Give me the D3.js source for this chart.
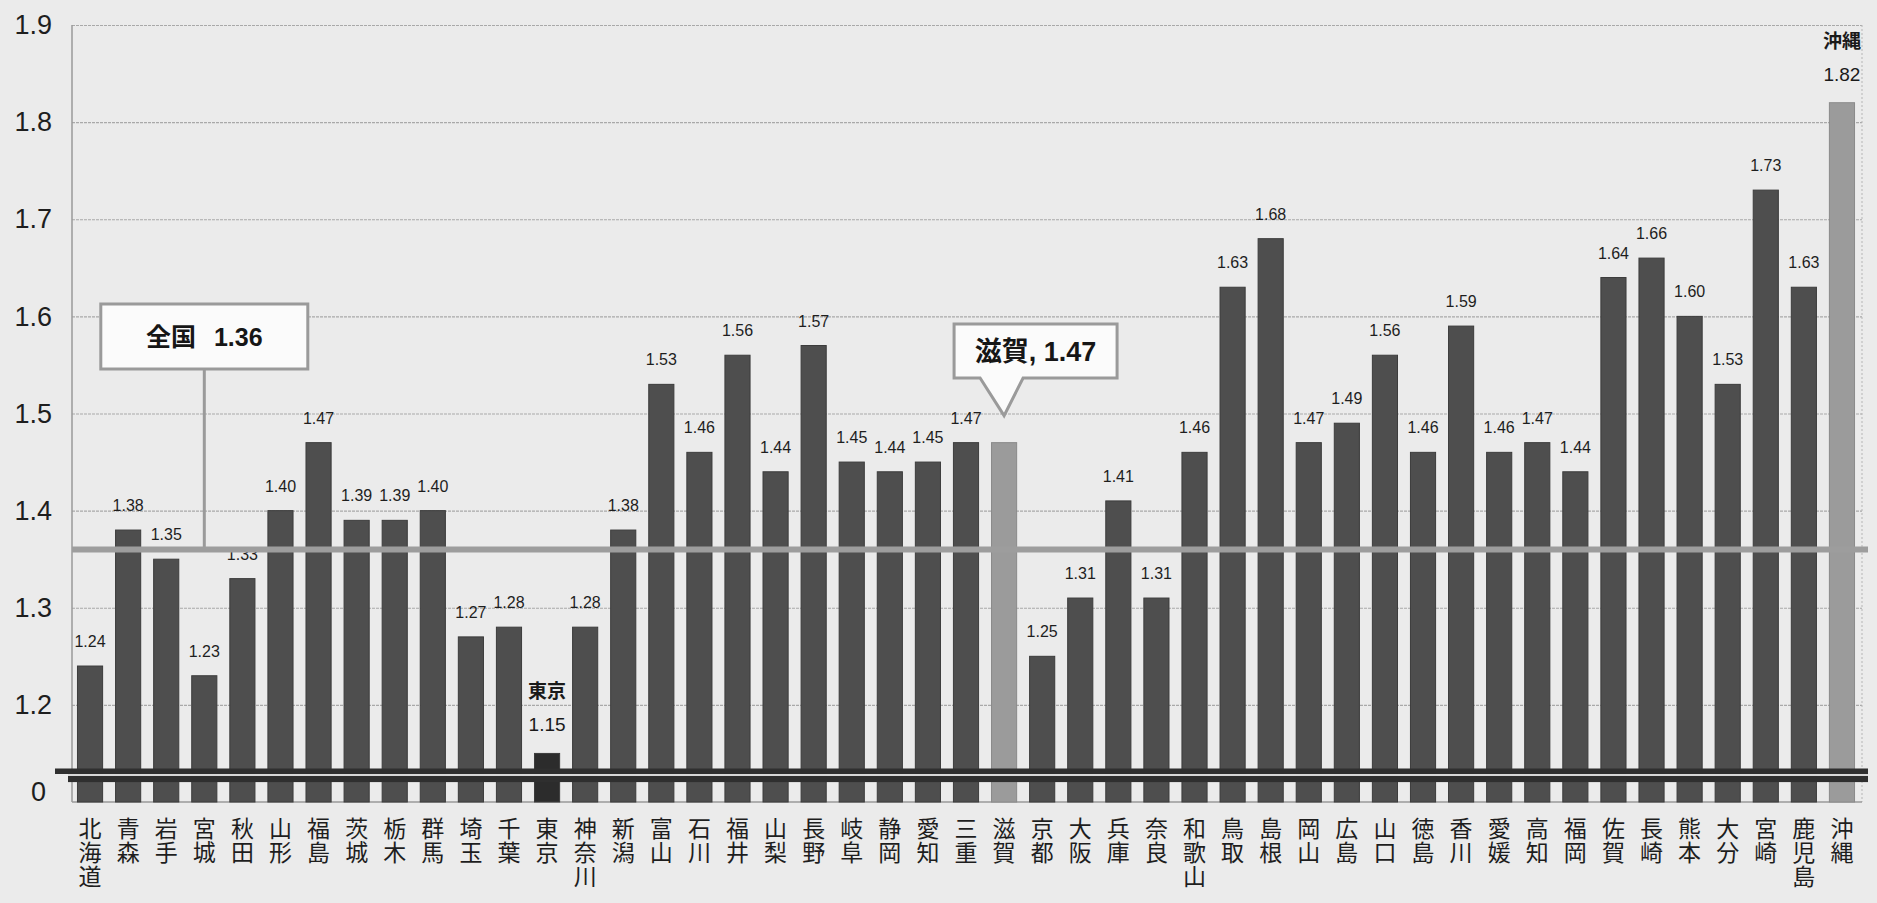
<!DOCTYPE html>
<html>
<head>
<meta charset="utf-8">
<script src="https://cdn.jsdelivr.net/npm/d3@7"></script>
<style>
  html, body { margin: 0; padding: 0; background: #ebebeb; }
  svg { display: block; }
</style>
</head>
<body>
<svg id="chart" width="1877" height="903"></svg>
<script>
// Total fertility rate by prefecture
const prefectures = [
  "北海道","青森","岩手","宮城","秋田","山形","福島","茨城","栃木","群馬",
  "埼玉","千葉","東京","神奈川","新潟","富山","石川","福井","山梨","長野",
  "岐阜","静岡","愛知","三重","滋賀","京都","大阪","兵庫","奈良","和歌山",
  "鳥取","島根","岡山","広島","山口","徳島","香川","愛媛","高知","福岡",
  "佐賀","長崎","熊本","大分","宮崎","鹿児島","沖縄"
];
const rates = [
  1.24,1.38,1.35,1.23,1.33,1.40,1.47,1.39,1.39,1.40,
  1.27,1.28,1.15,1.28,1.38,1.53,1.46,1.56,1.44,1.57,
  1.45,1.44,1.45,1.47,1.47,1.25,1.31,1.41,1.31,1.46,
  1.63,1.68,1.47,1.49,1.56,1.46,1.59,1.46,1.47,1.44,
  1.64,1.66,1.60,1.53,1.73,1.63,1.82
];
const yTicks = [1.2, 1.3, 1.4, 1.5, 1.6, 1.7, 1.8, 1.9];
const yTickLabels = ["1.2","1.3","1.4","1.5","1.6","1.7","1.8","1.9"];
const axisFloor = 1.1;          // drawn as "0" below the axis break
const floorLabel = "0";
const nationalName = "全国";
const nationalRate = 1.36;
const highlightName = "滋賀";    // callout bar
const namedBars = ["東京", "沖縄"]; // bars labelled with name + value
const lightBars = ["滋賀", "沖縄"];
const darkBars = ["東京"];

const data = prefectures.map((p, i) => ({ name: p, value: rates[i] }));

const svg = d3.select("#chart");
const W = 1877, H = 903;
const plot = { left: 72, right: 1862, top: 25, bottom: 802 };

const x = d3.scaleBand()
  .domain(prefectures)
  .range([plot.left - 1, plot.right - 1])
  .paddingInner(0.34)
  .paddingOuter(0.17);

const y = d3.scaleLinear()
  .domain([axisFloor, 1.9])
  .range([plot.bottom, plot.top]);

const latin = "'Liberation Sans', Arial, 'Noto Sans CJK JP', sans-serif";
const cjk = "'Noto Sans CJK JP', 'Noto Sans CJK SC', sans-serif";

svg.append("rect").attr("width", W).attr("height", H).attr("fill", "#ebebeb");

// Gridlines
const grid = d3.axisLeft(y).tickValues(yTicks).tickSize(-(plot.right - plot.left)).tickFormat("");
svg.append("g")
  .attr("transform", `translate(${plot.left},0)`)
  .call(grid)
  .call(g => g.select(".domain").remove())
  .call(g => g.selectAll("line")
    .attr("stroke", "#a9a9a9")
    .attr("stroke-width", 1.2)
    .attr("stroke-dasharray", "3,1"));

// Frame sides
svg.append("line")
  .attr("x1", plot.left).attr("x2", plot.left)
  .attr("y1", y(1.9)).attr("y2", plot.bottom)
  .attr("stroke", "#9a9a9a").attr("stroke-width", 1.5);
svg.append("line")
  .attr("x1", plot.right).attr("x2", plot.right)
  .attr("y1", y(1.9)).attr("y2", plot.bottom)
  .attr("stroke", "#b5b5b5").attr("stroke-width", 1).attr("stroke-dasharray", "2,2");
svg.append("line")
  .attr("x1", plot.left).attr("x2", plot.right)
  .attr("y1", plot.bottom).attr("y2", plot.bottom)
  .attr("stroke", "#9a9a9a").attr("stroke-width", 1.5);

// Y tick labels
const yAxis = d3.axisLeft(y).tickValues(yTicks)
  .tickFormat((d, i) => yTickLabels[i]).tickSize(0).tickPadding(20);
svg.append("g")
  .attr("transform", `translate(${plot.left},0)`)
  .call(yAxis)
  .call(g => g.select(".domain").remove())
  .call(g => g.selectAll("text")
    .attr("font-family", latin)
    .attr("font-size", 27)
    .attr("fill", "#1e1e1e"));
svg.append("text")
  .attr("x", 46).attr("y", y(axisFloor) - 10)
  .attr("text-anchor", "end")
  .attr("dominant-baseline", "central")
  .attr("font-family", latin).attr("font-size", 27).attr("fill", "#1e1e1e")
  .text(floorLabel);

// Bars
const barFill = d => darkBars.includes(d.name) ? "#2c2c2c"
  : lightBars.includes(d.name) ? "#9b9b9b" : "#4e4e4e";
svg.append("g").selectAll("rect")
  .data(data)
  .join("rect")
  .attr("x", d => x(d.name))
  .attr("width", x.bandwidth())
  .attr("y", d => y(d.value))
  .attr("height", d => y(axisFloor) - y(d.value))
  .attr("fill", barFill)
  .attr("stroke", d => lightBars.includes(d.name) ? "#8a8a8a" : "#3c3c3c")
  .attr("stroke-width", 1);

// Axis break band
const bandTop = y(1.1345), bandBottom = y(1.1205);
svg.append("rect")
  .attr("x", 55).attr("width", plot.right + 6 - 55)
  .attr("y", bandTop).attr("height", 5.5)
  .attr("fill", "#2f2f2f");
svg.append("rect")
  .attr("x", 68).attr("width", plot.right + 6 - 68)
  .attr("y", bandTop + 7.5).attr("height", bandBottom - bandTop - 7.5)
  .attr("fill", "#2f2f2f");
svg.append("rect")
  .attr("x", 68).attr("width", plot.right + 6 - 68)
  .attr("y", bandTop + 5.5).attr("height", 2)
  .attr("fill", "#d8d8d8");

// Value labels
const cx = d => x(d.name) + x.bandwidth() / 2;
svg.append("g").selectAll("text")
  .data(data.filter(d => d.name !== highlightName && !namedBars.includes(d.name)))
  .join("text")
  .attr("x", cx)
  .attr("y", d => y(d.value) - 19)
  .attr("text-anchor", "middle")
  .attr("font-family", latin)
  .attr("font-size", 16)
  .attr("fill", "#1e1e1e")
  .text(d => d.value.toFixed(2));

// Name + value labels
const named = data.filter(d => namedBars.includes(d.name));
svg.append("g").selectAll("text.nm")
  .data(named)
  .join("text")
  .attr("class", "nm")
  .attr("x", cx)
  .attr("y", d => y(d.value) - 55)
  .attr("text-anchor", "middle")
  .attr("font-family", cjk)
  .attr("font-weight", 700)
  .attr("font-size", 19)
  .attr("fill", "#1a1a1a")
  .text(d => d.name);
svg.append("g").selectAll("text.vl")
  .data(named)
  .join("text")
  .attr("class", "vl")
  .attr("x", cx)
  .attr("y", d => y(d.value) - 22)
  .attr("text-anchor", "middle")
  .attr("font-family", latin)
  .attr("font-size", 19)
  .attr("fill", "#1a1a1a")
  .text(d => d.value.toFixed(2));

// National average line with callout
const anchorName = "宮城";
const ax = x(anchorName) + x.bandwidth() / 2;
const boxW = 207, boxH = 65, boxTop = 304;
svg.append("line")
  .attr("x1", ax).attr("x2", ax)
  .attr("y1", boxTop + boxH).attr("y2", y(nationalRate))
  .attr("stroke", "#9a9a9a").attr("stroke-width", 3);
svg.append("line")
  .attr("x1", plot.left).attr("x2", plot.right + 6)
  .attr("y1", y(nationalRate)).attr("y2", y(nationalRate))
  .attr("stroke", "#9d9d9d").attr("stroke-width", 6);
svg.append("rect")
  .attr("x", ax - boxW / 2).attr("y", boxTop)
  .attr("width", boxW).attr("height", boxH)
  .attr("fill", "#fbfbfb")
  .attr("stroke", "#9a9a9a").attr("stroke-width", 3);
const nt = svg.append("text")
  .attr("x", ax).attr("y", boxTop + boxH / 2 + 9)
  .attr("text-anchor", "middle")
  .attr("font-family", latin).attr("font-weight", 700)
  .attr("font-size", 25).attr("fill", "#161616");
nt.append("tspan").attr("font-family", cjk).text(nationalName);
nt.append("tspan").attr("dx", 18).text(nationalRate.toFixed(2));

// Highlighted prefecture callout
const hd = data.find(d => d.name === highlightName);
const hx = cx(hd);
const tipY = y(hd.value) - 27;
const cb = { left: hx - 50, right: hx + 113, top: 324, bottom: 378 };
const callout = [
  [cb.left, cb.top], [cb.right, cb.top], [cb.right, cb.bottom],
  [hx + 19, cb.bottom], [hx, tipY], [hx - 24, cb.bottom],
  [cb.left, cb.bottom]
];
svg.append("path")
  .attr("d", d3.line()(callout) + "Z")
  .attr("fill", "#fbfbfb")
  .attr("stroke", "#9a9a9a").attr("stroke-width", 3)
  .attr("stroke-linejoin", "miter");
const ht = svg.append("text")
  .attr("x", (cb.left + cb.right) / 2).attr("y", (cb.top + cb.bottom) / 2 + 10)
  .attr("text-anchor", "middle")
  .attr("font-family", latin).attr("font-weight", 700)
  .attr("font-size", 27).attr("fill", "#161616");
ht.append("tspan").attr("font-family", cjk).text(hd.name);
ht.append("tspan").text(", " + hd.value.toFixed(2));

// Category labels, set in vertical writing mode
svg.append("g").selectAll("text")
  .data(data)
  .join("text")
  .attr("x", cx)
  .attr("y", 817)
  .attr("writing-mode", "vertical-rl")
  .style("writing-mode", "vertical-rl")
  .style("letter-spacing", "1px")
  .attr("text-anchor", "start")
  .attr("font-family", cjk)
  .attr("font-size", 23)
  .attr("fill", "#1e1e1e")
  .text(d => d.name);
</script>
</body>
</html>
